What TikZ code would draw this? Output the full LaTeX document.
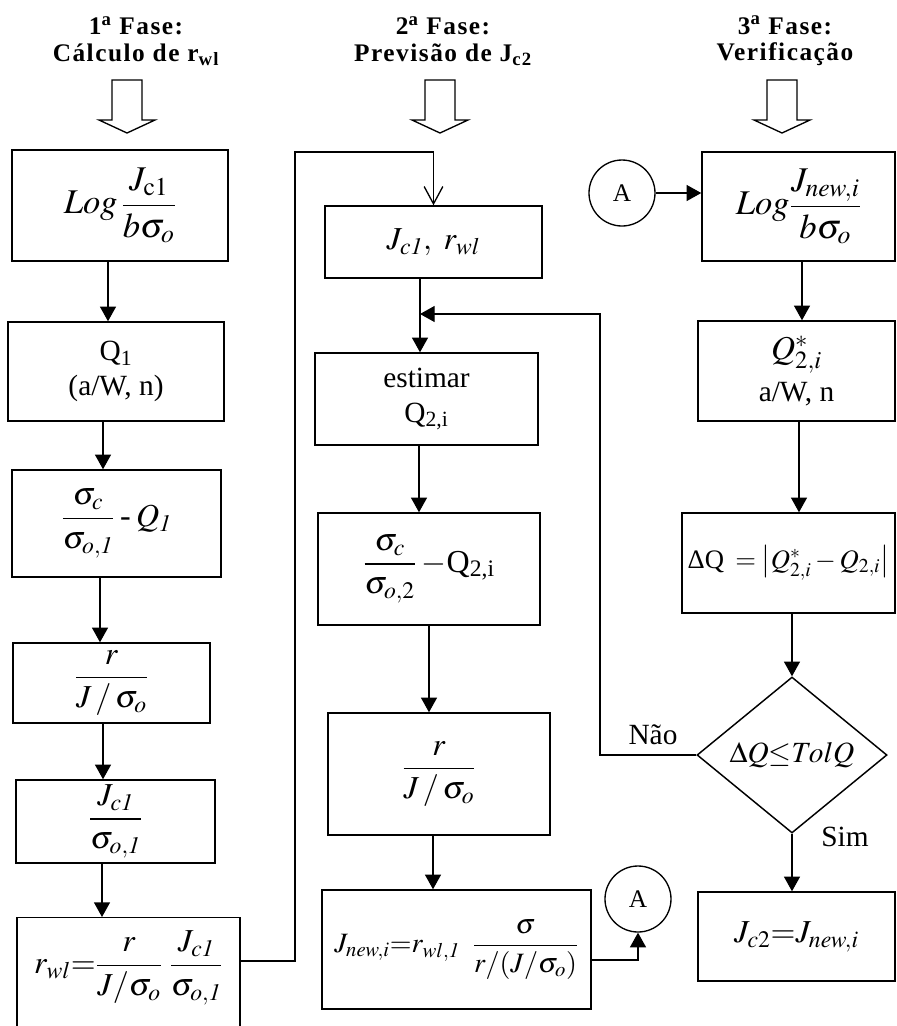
\documentclass[tikz,border=0pt]{standalone}
\usepackage{amsmath}
\usepackage{mathptmx}
\usepackage{fontspec}
\setmainfont{Liberation Serif}
\usetikzlibrary{arrows.meta,shapes.geometric}

\newcommand{\ione}{\mathit{1}}

\begin{document}
\begin{tikzpicture}[x=0.75pt,y=-0.75pt,
  box/.style={draw,line width=1.1pt,inner sep=0pt},
  txt/.style={font=\fontsize{22}{26}\selectfont},
  mth/.style={font=\fontsize{24}{28}\selectfont},
  big/.style={font=\fontsize{26}{30}\selectfont},
  head/.style={font=\fontsize{19}{20}\selectfont\bfseries\addfontfeature{LetterSpace=6},align=center},
  conn/.style={draw,line width=1pt},
  arr/.style={conn,-{Triangle[length=11pt,width=12pt]}},
  arrv/.style={conn,-{Straight Barb[length=13pt,width=14pt]}},
  hollow/.style={draw,line width=1pt},
  ring/.style={draw,circle,line width=1pt,minimum size=66*0.75pt,inner sep=0pt,font=\fontsize{19}{20}\selectfont}
]

\def\px{0.75pt}

\useasboundingbox (0,0) rectangle (897,1026);
\clip (0,0) rectangle (897,1026);

% Headers
\node[head] (h1) at (136,41) {1\textsuperscript{a} Fase:\\Cálculo de r\textsubscript{wl}};
\node[head] (h2) at (443,41) {2\textsuperscript{a} Fase:\\Previsão de J\textsubscript{c2}};
\node[head] (h3) at (785,41) {3\textsuperscript{a} Fase:\\Verificação};

% big hollow arrows
\foreach \cx in {127,440,782}{
    \draw[hollow] (\cx-15,80) -- (\cx+15,80) -- (\cx+15,120) -- (\cx+28,120)
        -- (\cx,133) -- (\cx-28,120) -- (\cx-15,120) -- cycle;
}

% -------- 1a Fase --------
\node[box,big,minimum width=216*\px,minimum height=111*\px] (b1) at (120,205.5)
    {$Log\,\dfrac{J_{\mathrm{c}1}}{b\sigma_o}$};
\node[box,txt,align=center,minimum width=216*\px,minimum height=99*\px] (b2) at (116,371.5)
    {Q\textsubscript{1}\\(a/W, n)};
\node[box,mth,minimum width=209*\px,minimum height=107*\px] (b3) at (116.5,523.5)
    {$\dfrac{\sigma_c}{\sigma_{o,\ione}}$\,-\,$Q_{\ione}$};
\node[box,mth,minimum width=197*\px,minimum height=80*\px] (b4) at (111.5,683)
    {$\dfrac{r}{J\,/\,\sigma_o}$};
\node[box,mth,minimum width=199*\px,minimum height=83*\px] (b5) at (115.5,821.5)
    {$\dfrac{J_{c\ione}}{\sigma_{o,\ione}}$};
\node[box,anchor=north,minimum width=223*\px,minimum height=140*\px] (b6) at (128.5,917) {};
\node[mth] (b6txt) at (128.5,968)
    {$r_{wl}{=}\dfrac{r}{J/\sigma_o}\;\dfrac{J_{c\ione}}{\sigma_{o,\ione}}$};

% -------- 2a Fase --------
\node[box,mth,minimum width=217*\px,minimum height=72*\px] (b7) at (433.5,242)
    {$J_{c\ione},\ r_{wl}$};
\node[box,txt,align=center,minimum width=223*\px,minimum height=92*\px] (b8) at (426.5,399)
    {estimar\\Q\textsubscript{2,i}};
\node[box,mth,minimum width=222*\px,minimum height=112*\px] (b9) at (429,569)
    {$\dfrac{\sigma_c}{\sigma_{o,2}}$\,$-$Q\textsubscript{2,i}};
\node[box,mth,minimum width=222*\px,minimum height=122*\px] (b10) at (439,774)
    {$\dfrac{r}{J\,/\,\sigma_o}$};
\node[box,minimum width=269*\px,minimum height=119*\px,font=\fontsize{21}{25}\selectfont] (b11) at (456.5,949.5)
    {$J_{new,i}{=}r_{wl,\ione}\;\;\dfrac{\sigma}{r/(J/\sigma_o)}$};
\node[ring] (A2) at (638,899) {A};

% -------- 3a Fase --------
\node[ring] (A1) at (622,193) {A};
\node[box,big,minimum width=193*\px,minimum height=109*\px] (b12) at (798.5,206.5)
    {$Log\dfrac{J_{new,i}}{b\sigma_o}$};
\node[box,txt,align=center,minimum width=197*\px,minimum height=100*\px] (b13) at (796.5,371)
    {{\fontsize{25}{28}\selectfont$Q^{*}_{2,i}$}\\[6pt]a/W, n};
\node[box,minimum width=213*\px,minimum height=100*\px,font=\fontsize{20}{24}\selectfont] (b14) at (788.5,563)
    {ΔQ\ \,$=\bigl|Q^{*}_{2,i}-Q_{2,i}\bigr|$};
\node[box,diamond,minimum width=190*\px,minimum height=156*\px,font=\fontsize{22}{26}\selectfont] (dia) at (792,755)
    {$\Delta Q{\leq}TolQ$};
\node[box,mth,minimum width=197*\px,minimum height=89*\px] (b15) at (796.5,936.5)
    {$J_{c2}{=}J_{new,i}$};

\node[txt] (nao) at (653,735) {Não};
\node[txt] (sim) at (845,837) {Sim};

% ---- connectors ----
\foreach \a/\b/\xx in {b1/b2/108,b2/b3/103,b3/b4/100,b4/b5/103,b5/b6/102,
                       b8/b9/419,b9/b10/429,b10/b11/433,
                       b12/b13/802,b13/b14/799,b14/dia/792,dia/b15/792}{
    \draw[arr] (\a.south -| \xx,0) -- (\b.north -| \xx,0);
}

\draw[arrv] (b6.east |- 0,961) -| (295,152) -| (b7.north);

\coordinate (jn) at (420,314);
\draw[arr] (b7.south -| jn) -- (b8.north -| jn);
\draw[arr] (dia.west) -| (600,314) -- (jn);

\draw[arr] (b11.east |- 0,960) -| (A2.south);
\draw[arr] (A1.east) -- (b12.west |- A1.east);

\end{tikzpicture}
\end{document}
